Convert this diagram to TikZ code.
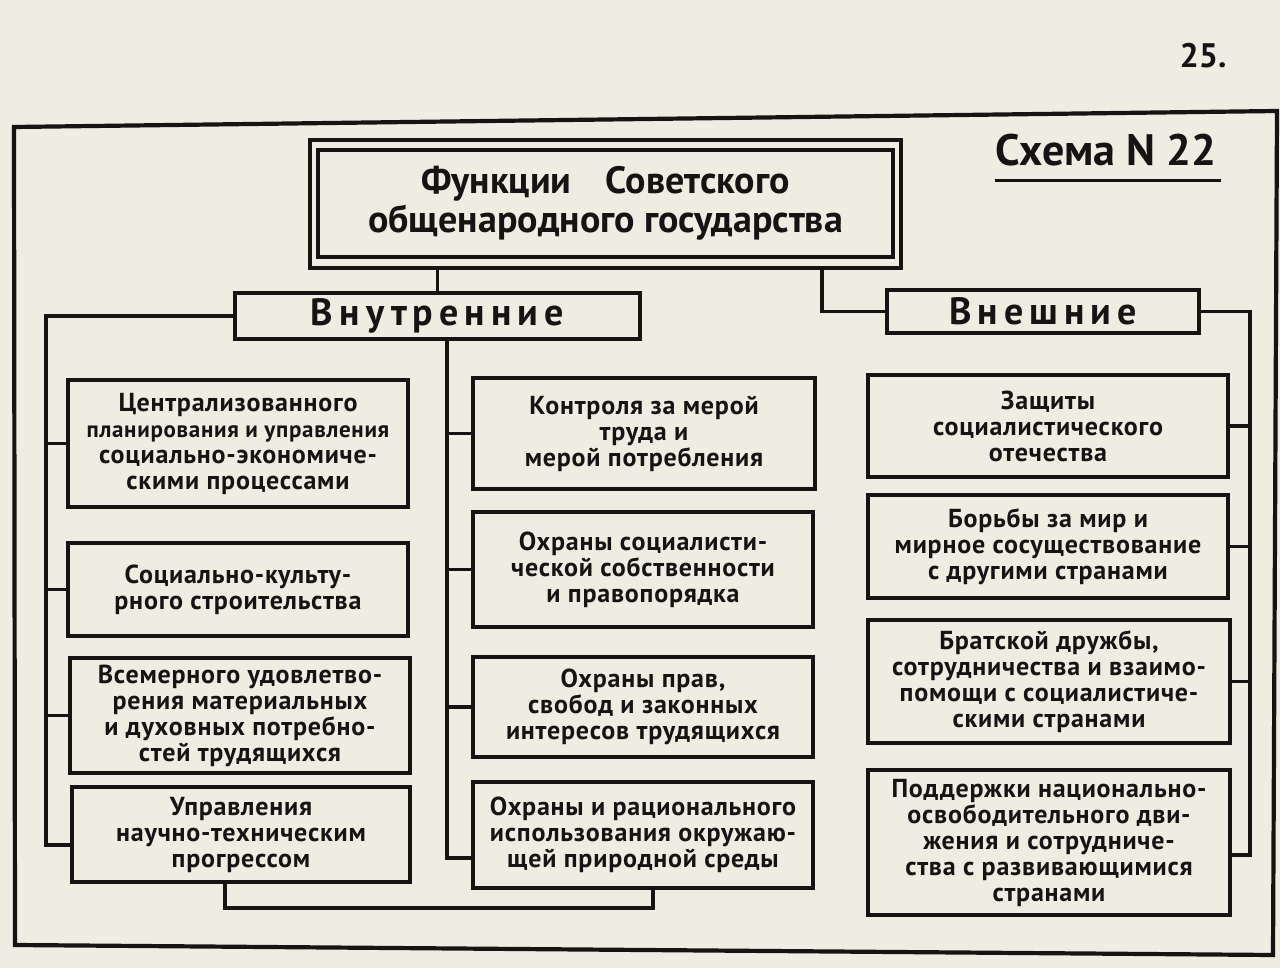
\documentclass[tikz,border=0pt]{standalone}
\usepackage{fontspec}
\setmainfont{PT Sans}
\newfontfamily\wide[LetterSpace=16]{PT Sans}
\newfontfamily\boxfont[LetterSpace=3]{PT Sans}
\usetikzlibrary{positioning}
\definecolor{paper}{RGB}{239,237,226}
\definecolor{ink}{RGB}{22,20,18}

\begin{document}
\begin{tikzpicture}[x=0.5pt, y=-0.5pt, line width=1.9pt, color=ink,
  sz/.style 2 args={minimum width=#1pt, minimum height=#2pt},
  box/.style={draw, inner sep=0pt, align=center, font=\boxfont\bfseries\fontsize{13}{13}\selectfont},
  group/.style={draw, inner sep=0pt, font=\wide\bfseries\fontsize{19}{20}\selectfont}]

  \useasboundingbox (0,0) rectangle (1280,968);
  \fill[paper] (0,0) rectangle (1280,968);

  % sheet frame
  \draw[line width=2.1pt] (14,127) -- (1277,111) -- (1273,955) -- (15,945) -- cycle;
  \node (page) at (1203,56) {\bfseries\fontsize{17}{17}\selectfont 25.};
  \node (scheme) at (1106,150) {\bfseries\fontsize{22}{22}\selectfont Схема N 22};
  \draw ([xshift=4pt,yshift=-3pt]scheme.south west) -- ([xshift=-2pt,yshift=-3pt]scheme.south east);

  % title
  \node[draw, sz={295.5}{64}] (ttlout) at (605.5,204) {};
  \node[box, sz={287.5}{53.5}, font=\bfseries\fontsize{19}{19.5}\selectfont] (ttl) at (605.5,203.5)
    {Функции\hspace{0.9em}Советского\\общенародного государства};

  \node[group, sz={202.5}{23}] (vn) at (437.5,316) {Внутренние};
  \node[group, sz={156}{21.5}] (vs) at (1043,311.5) {Внешние};

  % internal functions
  \node[box, sz={170}{63.5}] (l1) at (238,443.5)
    {Централизованного\\{\fontsize{11.5}{13}\selectfont планирования и управления}\\социально-экономиче-\\скими процессами};
  \node[box, sz={170}{46.5}] (l2) at (238,589.5) {Социально-культу-\\рного строительства};
  \node[box, sz={170}{57.5}] (l3) at (240,715.5)
    {Всемерного удовлетво-\\рения материальных\\и духовных потребно-\\стей трудящихся};
  \node[box, sz={169}{47.5}] (l4) at (241,834.5) {Управления\\научно-техническим\\прогрессом};

  \node[box, sz={171}{55.5}] (m1) at (644,433.5) {Контроля за мерой\\труда и\\мерой потребления};
  \node[box, sz={170}{57.5}] (m2) at (643,569.5)
    {Охраны социалисти-\\ческой собственности\\и правопорядка};
  \node[box, sz={170}{50}] (m3) at (643,707) {Охраны прав,\\свобод и законных\\интересов трудящихся};
  \node[box, sz={170}{53}] (m4) at (643,835)
    {Охраны и рационального\\использования окружаю-\\щей природной среды};

  % external functions
  \node[box, sz={180}{51}] (r1) at (1048,426) {Защиты\\социалистического\\отечества};
  \node[box, sz={180}{51.5}] (r2) at (1048,546.5)
    {Борьбы за мир и\\мирное сосуществование\\с другими странами};
  \node[box, sz={181}{61.5}] (r3) at (1049,681.5)
    {Братской дружбы,\\сотрудничества и взаимо-\\помощи с социалистиче-\\скими странами};
  \node[box, sz={181}{72.5}] (r4) at (1049,842.5)
    {Поддержки национально-\\освободительного дви-\\жения и сотрудниче-\\ства с развивающимися\\странами};

  \coordinate (lbus) at (46,845);
  \coordinate (mbus) at (447,858);
  \coordinate (rbus) at (1250,855);
  \coordinate (lowl) at (225,908);
  \coordinate (lowr) at (653,908);

  \draw (ttlout.south -| vn.north) -- (vn.north);
  \draw ([xshift=-40.5pt]ttlout.south east) |- (vs.west);

  \draw (vn.west) -| (lbus) -- (lbus -| l4.west);
  \foreach \b in {l1,l2,l3}
    \draw (\b.west) -- (\b.west -| lbus);

  \draw (vn.south -| mbus) -- (mbus) -- (mbus -| m4.west);
  \foreach \b in {m1,m2,m3}
    \draw (\b.west) -- (\b.west -| mbus);

  \draw (vs.east) -| (rbus) -- (rbus -| r4.east);
  \foreach \b in {r1,r2,r3}
    \draw (\b.east) -- (\b.east -| rbus);

  \draw (l4.south -| lowl) -- (lowl) -- (lowr) -- (lowr |- m4.south);

\end{tikzpicture}
\end{document}
